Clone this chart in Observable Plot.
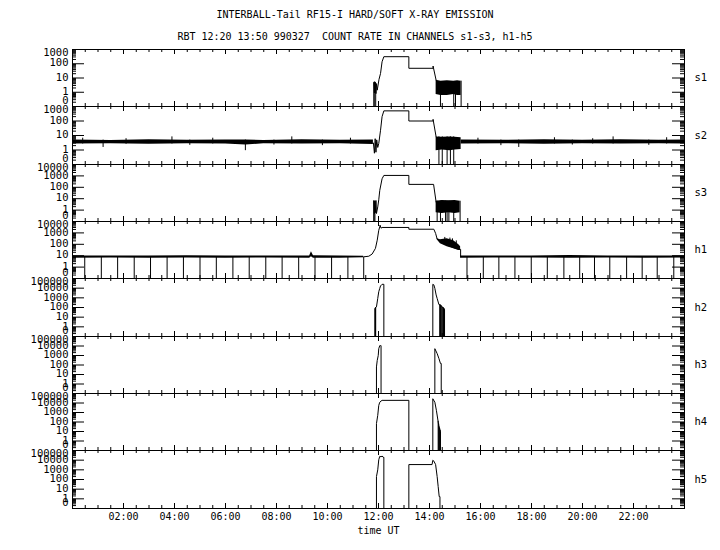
<!DOCTYPE html>
<html><head><meta charset="utf-8">
<script src="https://cdn.jsdelivr.net/npm/d3@7"></script>
<script src="https://cdn.jsdelivr.net/npm/@observablehq/plot@0.6"></script>
<style>
body{margin:0;background:#fff;}
#chart{position:relative;width:720px;height:550px;font-family:"DejaVu Sans Mono",monospace;overflow:hidden;}
.t{position:absolute;left:0;width:710px;text-align:center;font-size:10px;line-height:12px;color:#000;white-space:pre;}
#chart svg{position:absolute;left:0;overflow:visible;background:transparent;}
</style></head><body>
<div id="chart">
<div class="t" style="top:9px">INTERBALL-Tail RF15-I HARD/SOFT X-RAY EMISSION</div>
<div class="t" style="top:31px">RBT 12:20 13:50 990327  COUNT RATE IN CHANNELS s1-s3, h1-h5</div>
</div>
<script>
// ---- panel meta ----
const panelNames = ["s1","s2","s3","h1","h2","h3","h4","h5"];
const panelMaxExp = [3,3,4,4,5,5,5,5];
const hourTicks = [2,4,6,8,10,12,14,16,18,20,22];
const hourLabels = ["02:00","04:00","06:00","08:00","10:00","12:00","14:00","16:00","18:00","20:00","22:00"];

// ---- s1 ----
const s1LineTime  = [11.82,11.82,11.84,11.85,11.87,11.88,11.9,11.92,11.95,12.02,12.08,12.14,12.21,13.19,13.19,14.14,14.14,14.26];
const s1LineValue = [0,5,0.9,5.5,1,5,0.8,4,1.4,8,21,138,313,313,48,48,69,7];
const s1BandTime = [14.26,14.45,14.7,14.95,15.1,15.24];
const s1BandLow  = [0.7,0.6,0.6,0.7,0.6,0.6];
const s1BandHigh = [7,6,6.5,6,6.5,6];
const s1BandSeg  = [1,1,1,1,1,1];
const s1DropTime = [11.83,11.89,14.43,14.95,15.02,15.24];
const s1DropFrom = [5,4,5,5,5,6];
const s1DropTo   = [0,0,0,0,0,0];

// ---- s2 ----
const s2LineTime  = [11.8,11.84,11.87,11.9,11.93,11.97,12.01,12.08,12.14,12.21,13.19,13.19,14.14,14.14,14.26];
const s2LineValue = [3,0.6,6,0.7,5,1.5,2.8,23,200,500,500,100,100,130,8];
const s2BandTime = [0,1.5,3,4.5,6,6.8,7.5,9,10.5,11.8, 14.26,14.5,14.8,15.0,15.24, 15.24,17,18.5,20,21.5,23,24];
const s2BandLow  = [2.6,2.7,2.5,2.7,2.6,2.2,2.7,2.6,2.7,2.4, 0.9,1,0.9,1,1.1, 2.6,2.7,2.5,2.7,2.6,2.7,2.6];
const s2BandHigh = [4.8,4.6,5,4.7,4.8,4.9,4.6,5.1,4.7,4.8, 8,7.5,8,7.5,7, 4.8,4.7,5.1,4.7,5,4.7,4.8];
const s2BandSeg  = [0,0,0,0,0,0,0,0,0,0, 1,1,1,1,1, 2,2,2,2,2,2,2];
const s2DropTime = [14.37,14.5,14.69,14.82,14.95,
                    0.4,1.2,2.1,3.9,4.6,5.5,6.78,7.9,8.6,9.8,10.9,15.9,16.8,17.5,18.9,19.6,20.4,21.2,22.6,23.3];
const s2DropFrom = [8,8,8,8,8,
                    2.6,1.5,2.5,2.6,2.1,2.6,0.9,2.2,2.6,2.0,2.6,2.6,2.0,1.5,2.6,2.2,2.6,2.6,2.1,2.6];
const s2DropTo   = [0,0,0,0,0,
                    6.5,4.8,6,8,4.8,6.5,4.8,4.8,8,4.8,6.5,6.5,4.8,4.8,7,4.8,6,8,4.8,7];

// ---- s3 ----
const s3LineTime  = [11.82,11.82,11.84,11.86,11.88,11.9,11.92,11.97,12.01,12.05,12.14,12.21,13.19,13.19,14.16,14.26];
const s3LineValue = [0,7,0.5,6,0.6,7,0.5,1.9,8,54,560,1100,1100,180,180,5];
const s3BandTime = [14.26,14.5,14.75,15.0,15.2];
const s3BandLow  = [0.6,0.5,0.6,0.5,0.6];
const s3BandHigh = [6,7,6.5,7,6];
const s3BandSeg  = [1,1,1,1,1];
const s3DropTime = [11.82,11.86,14.3,14.43,14.63,14.69,14.76,14.95,15.2];
const s3DropFrom = [6,6,6,6,6,6,6,6,6];
const s3DropTo   = [0,0,0,0,0,0,0,0,0];

// ---- h1 ----
const h1LineTime  = [11.42,11.62,11.75,11.88,11.95,12.01,12.05,12.06,12.1,12.14,13.19,13.19,14.17,14.24,14.3,14.43,14.69,14.95,15.15,15.22,15.22];
const h1LineValue = [8,9,14,44,230,1700,3400,4800,2600,3000,3000,2100,2100,900,290,166,85,50,36,36,8];
const h1BandTime = [0,1.5,3,4.5,6,7.5,9.3,9.37,9.45,10.5,11.42, 14.3,14.43,14.69,14.95,15.15,15.22, 15.22,16.5,18,19.5,21,22.5,24];
const h1BandLow  = [6,6.3,6,6.2,6,6.3,6.1,8,6.1,6,6.5, 250,110,60,40,28,28, 6,6.2,6.3,6,6.2,6,6.2];
const h1BandHigh = [9.3,9.6,9.3,9.8,9.3,9.4,9.4,22,9.8,9.3,9, 300,250,300,200,90,60, 9.3,9.6,9.3,10.2,9.4,9.3,9.6];
const h1BandSeg  = [0,0,0,0,0,0,0,0,0,0,0, 1,1,1,1,1,1, 2,2,2,2,2,2,2];
const h1DropTime = [0.48,1.13,1.77,2.42,3.06,3.71,4.35,5.0,5.64,6.29,6.93,7.58,8.22,8.87,9.51,10.16,10.80,11.42,
                    15.47,16.11,16.72,17.35,17.99,18.62,19.27,19.89,20.47,21.07,21.73,22.34,22.93,23.58,
                    14.6,14.8,14.9,15.05];
const h1DropFrom = [7,7,7,7,7,7,7,7,7,7,7,7,7,7,7,7,7,7, 7,7,7,7,7,7,7,7,7,7,7,7,7,7, 100,80,60,40];
const h1DropTo   = [0,0,0,0,0,0,0,0,0,0,0,0,0,0,0,0,0,0, 0,0,0,0,0,0,0,0,0,0,0,0,0,0, 400,350,300,200];

// ---- h2 ----
const h2LineTime  = [11.86,11.86,11.92,11.97,12.01,12.05,12.08,12.14,12.21,12.21,14.13,14.13,14.17,14.21,14.26,14.3,14.37,14.43,14.5,14.56,14.59,14.59];
const h2LineValue = [0,80,115,870,4300,9600,17000,25000,25000,0,0,25000,22000,9600,2000,870,200,175,115,80,60,0];
const h2DropTime = [11.87,11.88,11.89,14.4,14.43,14.46,14.49,14.52,14.55,14.58];
const h2DropFrom = [80,90,100,190,175,150,120,100,90,70];
const h2DropTo   = [0,0,0,0,0,0,0,0,0,0];

// ---- h3 ----
const h3LineTime  = [11.92,11.92,11.95,11.99,12.01,12.05,12.08,12.1,12.1,14.21,14.21,14.3,14.37,14.43,14.46,14.46];
const h3LineValue = [0,63,300,1000,5200,11000,11000,11000,0,0,5200,1600,480,145,145,0];

// ---- h4 ----
const h4LineTime  = [11.92,11.92,11.97,12.01,12.05,12.1,12.14,13.19,13.19,14.13,14.13,14.21,14.27,14.33,14.37,14.43,14.43];
const h4LineValue = [0,68,500,5600,12000,16000,19000,19000,0,0,28000,12000,1700,155,31,10,0];
const h4DropTime = [14.34,14.36,14.38,14.4,14.42];
const h4DropFrom = [120,60,30,20,12];
const h4DropTo   = [0,0,0,0,0];

// ---- h5 ----
const h5LineTime  = [11.92,11.92,11.97,12.01,12.05,12.1,12.14,12.18,12.21,12.21,13.19,13.19,14.1,14.13,14.17,14.24,14.3,14.34,14.38,14.41,14.41];
const h5LineValue = [0,200,1000,11000,25000,22000,27000,20000,20000,0,0,3500,3500,9800,8000,3500,200,19,1.7,1.7,0];

const panelTops = [49,106,164,221,278,336,393,450,508];

function build(i, lineT, lineV, bandT, bandLo, bandHi, bandSeg, dropT, dropFrom, dropTo) {
  const isLast = i === 7;
  const H = panelTops[i+1] - panelTops[i];
  const mt = 12, mb = isLast ? 40 : 12;
  const W = 720 - 72 - 36;
  const exp = panelMaxExp[i];
  const cv = v => Math.max(v, 0.1);
  const line = lineT.map((t, j) => ({t, v: cv(lineV[j])}));
  const band = bandT.map((t, j) => ({t, lo: cv(bandLo[j]), hi: cv(bandHi[j]), s: bandSeg[j]}));
  const drops = dropT.map((t, j) => ({t, a: cv(dropFrom[j]), b: cv(dropTo[j])}));
  const major = [], minor = [];
  for (let e = -1; e < exp; e++) for (let k = 1; k <= 9; k++) {
    const v = +(k * Math.pow(10, e)).toPrecision(6);
    (k === 1 ? major : minor).push(v);
  }
  major.push(Math.pow(10, exp));
  const labelVals = major.slice().reverse();
  const fmt = v => v < 1 ? "0" : String(v);
  const xMinor = []; for (let h = 0.5; h < 24; h += 0.5) xMinor.push(h);
  const lab = {y: d => d, text: fmt, frameAnchor: "left", textAnchor: "end", dx: -4, fontSize: 10.5, lineHeight: 0.8};
  const marks = [
    Plot.areaY(band, {x: "t", y1: "lo", y2: "hi", z: "s", fill: "black"}),
    Plot.ruleX(drops, {x: "t", y1: "a", y2: "b", stroke: "black", strokeWidth: 1}),
    Plot.line(line, {x: "t", y: "v", stroke: "black", strokeWidth: 1}),
    Plot.frame({stroke: "black"}),
    Plot.tickY(major, {y: d => d, insetRight: W - 12, stroke: "black"}),
    Plot.tickY(minor, {y: d => d, insetRight: W - 4, stroke: "black"}),
    Plot.tickY(major, {y: d => d, insetLeft: W - 12, stroke: "black"}),
    Plot.tickY(minor, {y: d => d, insetLeft: W - 4, stroke: "black"}),
    Plot.tickX(hourTicks, {x: d => d, insetBottom: H - 5, stroke: "black"}),
    Plot.tickX(hourTicks, {x: d => d, insetTop: H - 5, stroke: "black"}),
    Plot.tickX(xMinor, {x: d => d, insetBottom: H - 3, stroke: "black"}),
    Plot.tickX(xMinor, {x: d => d, insetTop: H - 3, stroke: "black"}),
    Plot.text(labelVals.slice(0, 1), {...lab, dy: 4}),
    Plot.text(labelVals.slice(1, -1), {...lab, dy: 0}),
    Plot.text(labelVals.slice(-1), {...lab, dy: -5}),
    Plot.text([panelNames[i]], {frameAnchor: "right", dx: 10, textAnchor: "start", fontSize: 10.5})
  ];
  if (isLast) {
    marks.push(Plot.text(hourTicks, {x: d => d, text: (d, j) => hourLabels[j], frameAnchor: "bottom", dy: 11}));
    marks.push(Plot.text(["time UT"], {frameAnchor: "bottom", dy: 25}));
  }
  const svg = Plot.plot({
    width: 720, height: H + mt + mb,
    marginLeft: 72, marginRight: 36, marginTop: mt, marginBottom: mb,
    style: {fontFamily: "DejaVu Sans Mono", fontSize: "10px", background: "transparent", overflow: "visible", color: "black"},
    x: {domain: [0, 24], axis: null},
    y: {type: "log", domain: [0.1, Math.pow(10, exp)], axis: null},
    marks
  });
  svg.style.top = (panelTops[i] - mt) + "px";
  document.getElementById("chart").appendChild(svg);
}

build(0, s1LineTime, s1LineValue, s1BandTime, s1BandLow, s1BandHigh, s1BandSeg, s1DropTime, s1DropFrom, s1DropTo);
build(1, s2LineTime, s2LineValue, s2BandTime, s2BandLow, s2BandHigh, s2BandSeg, s2DropTime, s2DropFrom, s2DropTo);
build(2, s3LineTime, s3LineValue, s3BandTime, s3BandLow, s3BandHigh, s3BandSeg, s3DropTime, s3DropFrom, s3DropTo);
build(3, h1LineTime, h1LineValue, h1BandTime, h1BandLow, h1BandHigh, h1BandSeg, h1DropTime, h1DropFrom, h1DropTo);
build(4, h2LineTime, h2LineValue, [], [], [], [], h2DropTime, h2DropFrom, h2DropTo);
build(5, h3LineTime, h3LineValue, [], [], [], [], [], [], []);
build(6, h4LineTime, h4LineValue, [], [], [], [], h4DropTime, h4DropFrom, h4DropTo);
build(7, h5LineTime, h5LineValue, [], [], [], [], [], [], []);
</script>
</body></html>
